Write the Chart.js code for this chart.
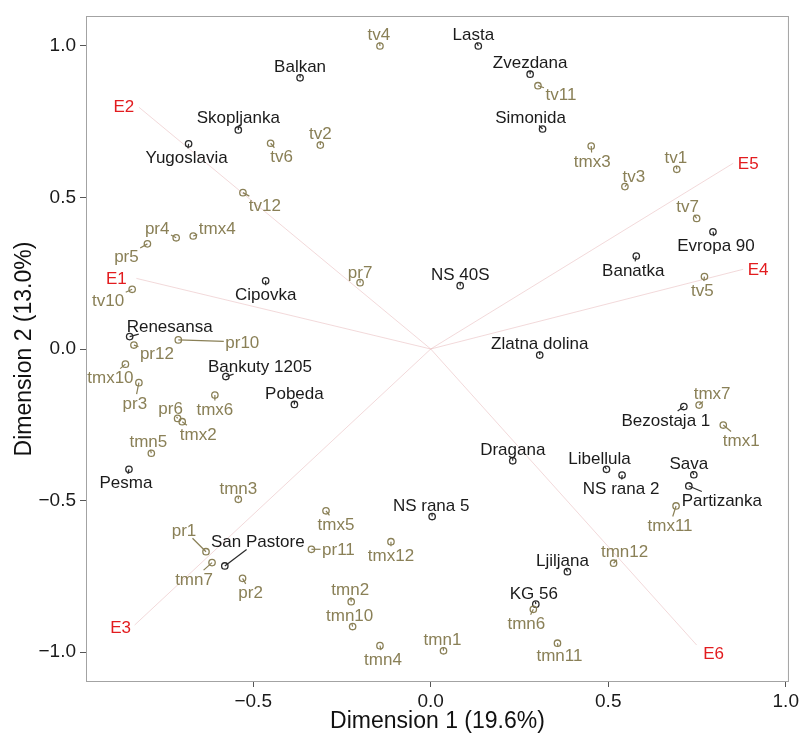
<!DOCTYPE html>
<html>
<head>
<meta charset="utf-8">
<title>GGE biplot</title>
<script src="https://cdn.jsdelivr.net/npm/chart.js@4.4.1/dist/chart.umd.min.js"></script>
<style>
  html, body { margin: 0; padding: 0; background: #ffffff; }
  canvas { display: block; }
</style>
</head>
<body>
<canvas id="biplot" width="802" height="734"></canvas>
<script>
// ---- genotype scores ----
const genotypeNames = ['Lasta', 'Zvezdana', 'Simonida', 'Balkan', 'Skopljanka', 'Yugoslavia',
  'Evropa 90', 'Banatka', 'NS 40S', 'Cipovka', 'Zlatna dolina', 'Renesansa', 'Bankuty 1205',
  'Pobeda', 'Pesma', 'San Pastore', 'NS rana 5', 'Dragana', 'Libellula', 'NS rana 2', 'Sava',
  'Bezostaja 1', 'Partizanka', 'Ljiljana', 'KG 56'];
const genotypeDim1 = [0.134, 0.280, 0.315, -0.368, -0.542, -0.682,
  0.795, 0.579, 0.083, -0.465, 0.307, -0.848, -0.577,
  -0.384, -0.850, -0.580, 0.004, 0.231, 0.495, 0.539, 0.741,
  0.713, 0.727, 0.385, 0.296];
const genotypeDim2 = [1.000, 0.907, 0.726, 0.895, 0.723, 0.677,
  0.387, 0.307, 0.209, 0.225, -0.020, 0.041, -0.091,
  -0.183, -0.397, -0.716, -0.553, -0.369, -0.397, -0.416, -0.415,
  -0.190, -0.452, -0.735, -0.842];

// ---- environmental covariable scores ----
const envNames = ['tv4', 'tv11', 'tv2', 'tv6', 'tv12', 'tmx3', 'tv3', 'tv1', 'tv7', 'tv5',
  'pr4', 'tmx4', 'pr5', 'tv10', 'pr7', 'pr10', 'pr12', 'tmx10', 'pr3', 'tmx6',
  'pr6', 'tmx2', 'tmn5', 'tmn3', 'pr1', 'tmn7', 'pr2', 'tmx5', 'pr11', 'tmx12',
  'tmn2', 'tmn10', 'tmn4', 'tmn1', 'tmn11', 'tmn6', 'tmn12', 'tmx11', 'tmx7', 'tmx1'];
const envDim1 = [-0.143, 0.302, -0.311, -0.451, -0.529, 0.452, 0.547, 0.693, 0.749, 0.771,
  -0.717, -0.669, -0.798, -0.841, -0.199, -0.711, -0.836, -0.860, -0.822, -0.608,
  -0.713, -0.700, -0.787, -0.542, -0.633, -0.616, -0.530, -0.295, -0.336, -0.112,
  -0.224, -0.220, -0.143, 0.036, 0.357, 0.289, 0.515, 0.691, 0.756, 0.824];
const envDim2 = [1.000, 0.869, 0.673, 0.679, 0.516, 0.670, 0.536, 0.593, 0.431, 0.239,
  0.367, 0.373, 0.347, 0.197, 0.219, 0.030, 0.013, -0.050, -0.111, -0.152,
  -0.229, -0.240, -0.344, -0.496, -0.669, -0.705, -0.757, -0.534, -0.661, -0.636,
  -0.834, -0.916, -0.979, -0.996, -0.971, -0.859, -0.707, -0.518, -0.185, -0.251];

// ---- environment vectors ----
const vectorNames = ['E1', 'E2', 'E3', 'E4', 'E5', 'E6'];
const vectorDim1 = [-0.829, -0.822, -0.834, 0.880, 0.852, 0.749];
const vectorDim2 = [0.233, 0.798, -0.911, 0.263, 0.613, -0.977];

// ---- axes ----
const xTickValues = [-0.5, 0.0, 0.5, 1.0];
const yTickValues = [-1.0, -0.5, 0.0, 0.5, 1.0];
const xTitle = 'Dimension 1 (19.6%)';
const yTitle = 'Dimension 2 (13.0%)';

// Label placement: offset (px) of each label's centre from its point.
const labelNudge = {
  'Lasta': [-5, -12], 'Zvezdana': [0, -12], 'Simonida': [-12, -12], 'Balkan': [0, -12],
  'Skopljanka': [0, -13], 'Yugoslavia': [-2, 13], 'Evropa 90': [3, 13], 'Banatka': [-3, 14],
  'NS 40S': [0, -12], 'Cipovka': [0, 13], 'Zlatna dolina': [0, -12], 'Renesansa': [40, -11],
  'Bankuty 1205': [34, -11], 'Pobeda': [0, -12], 'Pesma': [-3, 13], 'San Pastore': [33, -25],
  'NS rana 5': [-1, -12], 'Dragana': [0, -12], 'Libellula': [-7, -11], 'NS rana 2': [-1, 13],
  'Sava': [-5, -12], 'Bezostaja 1': [-18, 13], 'Partizanka': [33, 14], 'Ljiljana': [-5, -12],
  'KG 56': [-2, -11],
  'tv4': [-1, -12], 'tv11': [23, 8], 'tv2': [0, -12], 'tv6': [11, 13], 'tv12': [22, 12],
  'tmx3': [1, 15], 'tv3': [9, -11], 'tv1': [-1, -12], 'tv7': [-9, -12], 'tv5': [-2, 13],
  'pr4': [-19, -10], 'tmx4': [24, -8], 'pr5': [-21, 12], 'tv10': [-24, 11], 'pr7': [0, -11],
  'pr10': [64, 2], 'pr12': [23, 8], 'tmx10': [-15, 13], 'pr3': [-4, 20], 'tmx6': [0, 14],
  'pr6': [-7, -10], 'tmx2': [16, 12], 'tmn5': [-3, -12], 'tmn3': [0, -11], 'pr1': [-22, -22],
  'tmn7': [-18, 16], 'pr2': [8, 14], 'tmx5': [10, 13], 'pr11': [27, 0], 'tmx12': [0, 13],
  'tmn2': [-1, -13], 'tmn10': [-3, -12], 'tmn4': [3, 13], 'tmn1': [-1, -12], 'tmn11': [2, 12],
  'tmn6': [-7, 14], 'tmn12': [11, -12], 'tmx11': [-6, 19], 'tmx7': [13, -12], 'tmx1': [18, 15]
};
const vectorLabelNudge = {
  'E1': [-20, 0], 'E2': [-15, -1], 'E3': [-14, 2], 'E4': [15, 0], 'E5': [15, 0], 'E6': [17, 8]
};

const FAMILY = '"Liberation Sans", Arial, Helvetica, sans-serif';
const LABEL_SIZE = 17;
const CAP = 0.716 * LABEL_SIZE;
const COLORS = {
  genotype: '#1b1b1b',
  genotypePoint: '#2a2a2a',
  env: '#8a8057',
  vector: '#e21c1f',
  vectorLine: 'rgba(226, 170, 172, 0.45)',
  panel: '#a3a3a3',
  tick: '#555555',
  text: '#1a1a1a'
};

const fmt = v => {
  if (Math.abs(v) < 1e-9) return '0.0';
  return (v < 0 ? '\u2212' : '') + Math.abs(v).toFixed(1);
};

const biplotLayer = {
  id: 'biplotLayer',
  beforeDatasetsDraw(chart) {
    const { ctx, chartArea: a, scales: { x, y } } = chart;
    ctx.save();
    // environment vectors from the origin
    ctx.strokeStyle = COLORS.vectorLine;
    ctx.lineWidth = 1;
    const ox = x.getPixelForValue(0), oy = y.getPixelForValue(0);
    vectorNames.forEach((n, i) => {
      ctx.beginPath();
      ctx.moveTo(ox, oy);
      ctx.lineTo(x.getPixelForValue(vectorDim1[i]), y.getPixelForValue(vectorDim2[i]));
      ctx.stroke();
    });
    // panel border
    ctx.strokeStyle = COLORS.panel;
    ctx.lineWidth = 1;
    ctx.strokeRect(a.left + 0.5, a.top + 0.5, a.right - a.left - 1, a.bottom - a.top - 1);
    ctx.restore();
  },
  afterDatasetsDraw(chart) {
    const { ctx, scales: { x, y } } = chart;
    ctx.save();
    ctx.font = LABEL_SIZE + 'px ' + FAMILY;
    ctx.textAlign = 'center';
    ctx.textBaseline = 'alphabetic';

    const drawLabels = (names, xs, ys, textColor, lineColor) => {
      names.forEach((n, i) => {
        const px = x.getPixelForValue(xs[i]);
        const py = y.getPixelForValue(ys[i]);
        const [dx, dy] = labelNudge[n] || [0, -12];
        const cx = px + dx, cy = py + dy;
        const hw = ctx.measureText(n).width / 2 + 1.5;
        const hh = 8.5;
        // connector from the point to the edge of the label box
        const tx = dx === 0 ? Infinity : hw / Math.abs(dx);
        const ty = dy === 0 ? Infinity : hh / Math.abs(dy);
        const t = Math.min(tx, ty);
        if (t < 1) {
          ctx.strokeStyle = lineColor;
          ctx.lineWidth = 1.2;
          ctx.beginPath();
          ctx.moveTo(px, py);
          ctx.lineTo(cx - dx * t, cy - dy * t);
          ctx.stroke();
        }
        ctx.fillStyle = textColor;
        ctx.fillText(n, cx, cy + CAP / 2);
      });
    };
    drawLabels(envNames, envDim1, envDim2, COLORS.env, COLORS.env);
    drawLabels(genotypeNames, genotypeDim1, genotypeDim2, COLORS.genotype, COLORS.genotypePoint);

    // vector labels
    ctx.fillStyle = COLORS.vector;
    vectorNames.forEach((n, i) => {
      const [dx, dy] = vectorLabelNudge[n];
      const px = x.getPixelForValue(vectorDim1[i]) + dx;
      const py = y.getPixelForValue(vectorDim2[i]) + dy;
      ctx.fillText(n, px, py + CAP / 2);
    });
    ctx.restore();
  }
};

const pointStyle = (color) => ({
  pointRadius: 3.2,
  pointHoverRadius: 3.2,
  pointBorderWidth: 1.3,
  pointBackgroundColor: 'rgba(0,0,0,0)',
  pointBorderColor: color,
  borderColor: color,
  backgroundColor: 'rgba(0,0,0,0)',
  showLine: false
});

new Chart(document.getElementById('biplot'), {
  type: 'scatter',
  data: {
    datasets: [
      Object.assign({
        label: 'Environmental covariables',
        data: envNames.map((n, i) => ({ x: envDim1[i], y: envDim2[i] }))
      }, pointStyle(COLORS.env)),
      Object.assign({
        label: 'Genotypes',
        data: genotypeNames.map((n, i) => ({ x: genotypeDim1[i], y: genotypeDim2[i] }))
      }, pointStyle(COLORS.genotypePoint))
    ]
  },
  options: {
    responsive: false,
    animation: false,
    devicePixelRatio: 1,
    events: [],
    layout: { padding: { top: 16, right: 9, left: 0, bottom: 0 } },
    plugins: { legend: { display: false }, tooltip: { enabled: false } },
    scales: {
      x: {
        type: 'linear',
        min: -0.971,
        max: 1.009,
        afterBuildTicks: s => { s.ticks = xTickValues.map(v => ({ value: v })); },
        afterFit: s => { s.height = 52; },
        grid: { display: true, drawOnChartArea: false, drawTicks: true, tickLength: 5, color: COLORS.tick, lineWidth: 1 },
        border: { display: false },
        ticks: {
          autoSkip: false, maxRotation: 0, padding: 3, color: COLORS.text,
          font: { family: FAMILY, size: 19 },
          callback: v => fmt(v)
        },
        title: {
          display: true, text: xTitle, color: '#111111',
          font: { family: FAMILY, size: 23, lineHeight: 1 },
          padding: { top: 0, bottom: 1 }
        }
      },
      y: {
        type: 'linear',
        min: -1.099,
        max: 1.099,
        afterBuildTicks: s => { s.ticks = yTickValues.map(v => ({ value: v })); },
        afterFit: s => { s.width = 86; },
        grid: { display: true, drawOnChartArea: false, drawTicks: true, tickLength: 6, color: COLORS.tick, lineWidth: 1 },
        border: { display: false },
        ticks: {
          autoSkip: false, padding: 4, color: COLORS.text,
          font: { family: FAMILY, size: 19 },
          callback: v => fmt(v)
        },
        title: {
          display: true, text: yTitle, color: '#111111',
          font: { family: FAMILY, size: 23, lineHeight: 1 },
          padding: { top: 13, bottom: 0 }
        }
      }
    }
  },
  plugins: [biplotLayer]
});
</script>
</body>
</html>
